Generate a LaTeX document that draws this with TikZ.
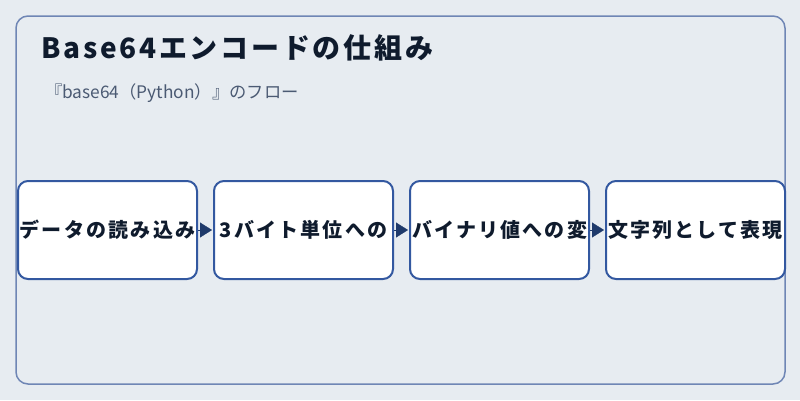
\documentclass[tikz,border=0pt]{standalone}
\usepackage{fontspec}
\setmainfont{Noto Sans CJK JP}
\usetikzlibrary{arrows.meta}
\definecolor{bg}{HTML}{E7ECF1}
\definecolor{frame}{HTML}{6F86B5}
\definecolor{boxline}{HTML}{3358A0}
\definecolor{arrowc}{HTML}{1F3A6B}
\definecolor{titlec}{HTML}{0F1B2D}
\definecolor{subc}{HTML}{4B5A73}
\tikzset{
  stepbox/.style={draw=boxline, line width=2pt, fill=white, rounded corners=10pt,
    minimum width=179pt, minimum height=98pt, inner sep=0pt, anchor=west,
    font=\fontsize{20}{24}\selectfont\bfseries\addfontfeature{LetterSpace=11}, text=titlec},
  flow/.style={arrowc, line width=0.3pt, shorten >=1pt,
    -{Triangle[length=12pt,width=15pt]}},
}
\begin{document}
\begin{tikzpicture}[x=1pt,y=-1pt]
\fill[bg] (0,0) rectangle (800,400);
\useasboundingbox (0,0) rectangle (800,400);
\draw[frame, line width=1.5pt, rounded corners=12pt] (16,16) rectangle (785,384);
\node[anchor=base west, inner sep=0pt, text=titlec, font=\fontsize{28}{32}\selectfont\bfseries\addfontfeature{LetterSpace=9.8}] (title) at (41,58) {Base64エンコードの仕組み};
\node[anchor=base west, inner sep=0pt, text=subc, font=\fontsize{17.3}{20}\selectfont] (sub) at (45,98) {『base64（Python）』のフロー};
\node[stepbox] (b1) at (17,230) {データの読み込み};
\node[stepbox] (b2) at (213,230) {3バイト単位への};
\node[stepbox] (b3) at (409,230) {バイナリ値への変};
\node[stepbox] (b4) at (605,230) {文字列として表現};
\draw[flow] (b1.east) -- (b2.west);
\draw[flow] (b2.east) -- (b3.west);
\draw[flow] (b3.east) -- (b4.west);
\end{tikzpicture}
\end{document}
